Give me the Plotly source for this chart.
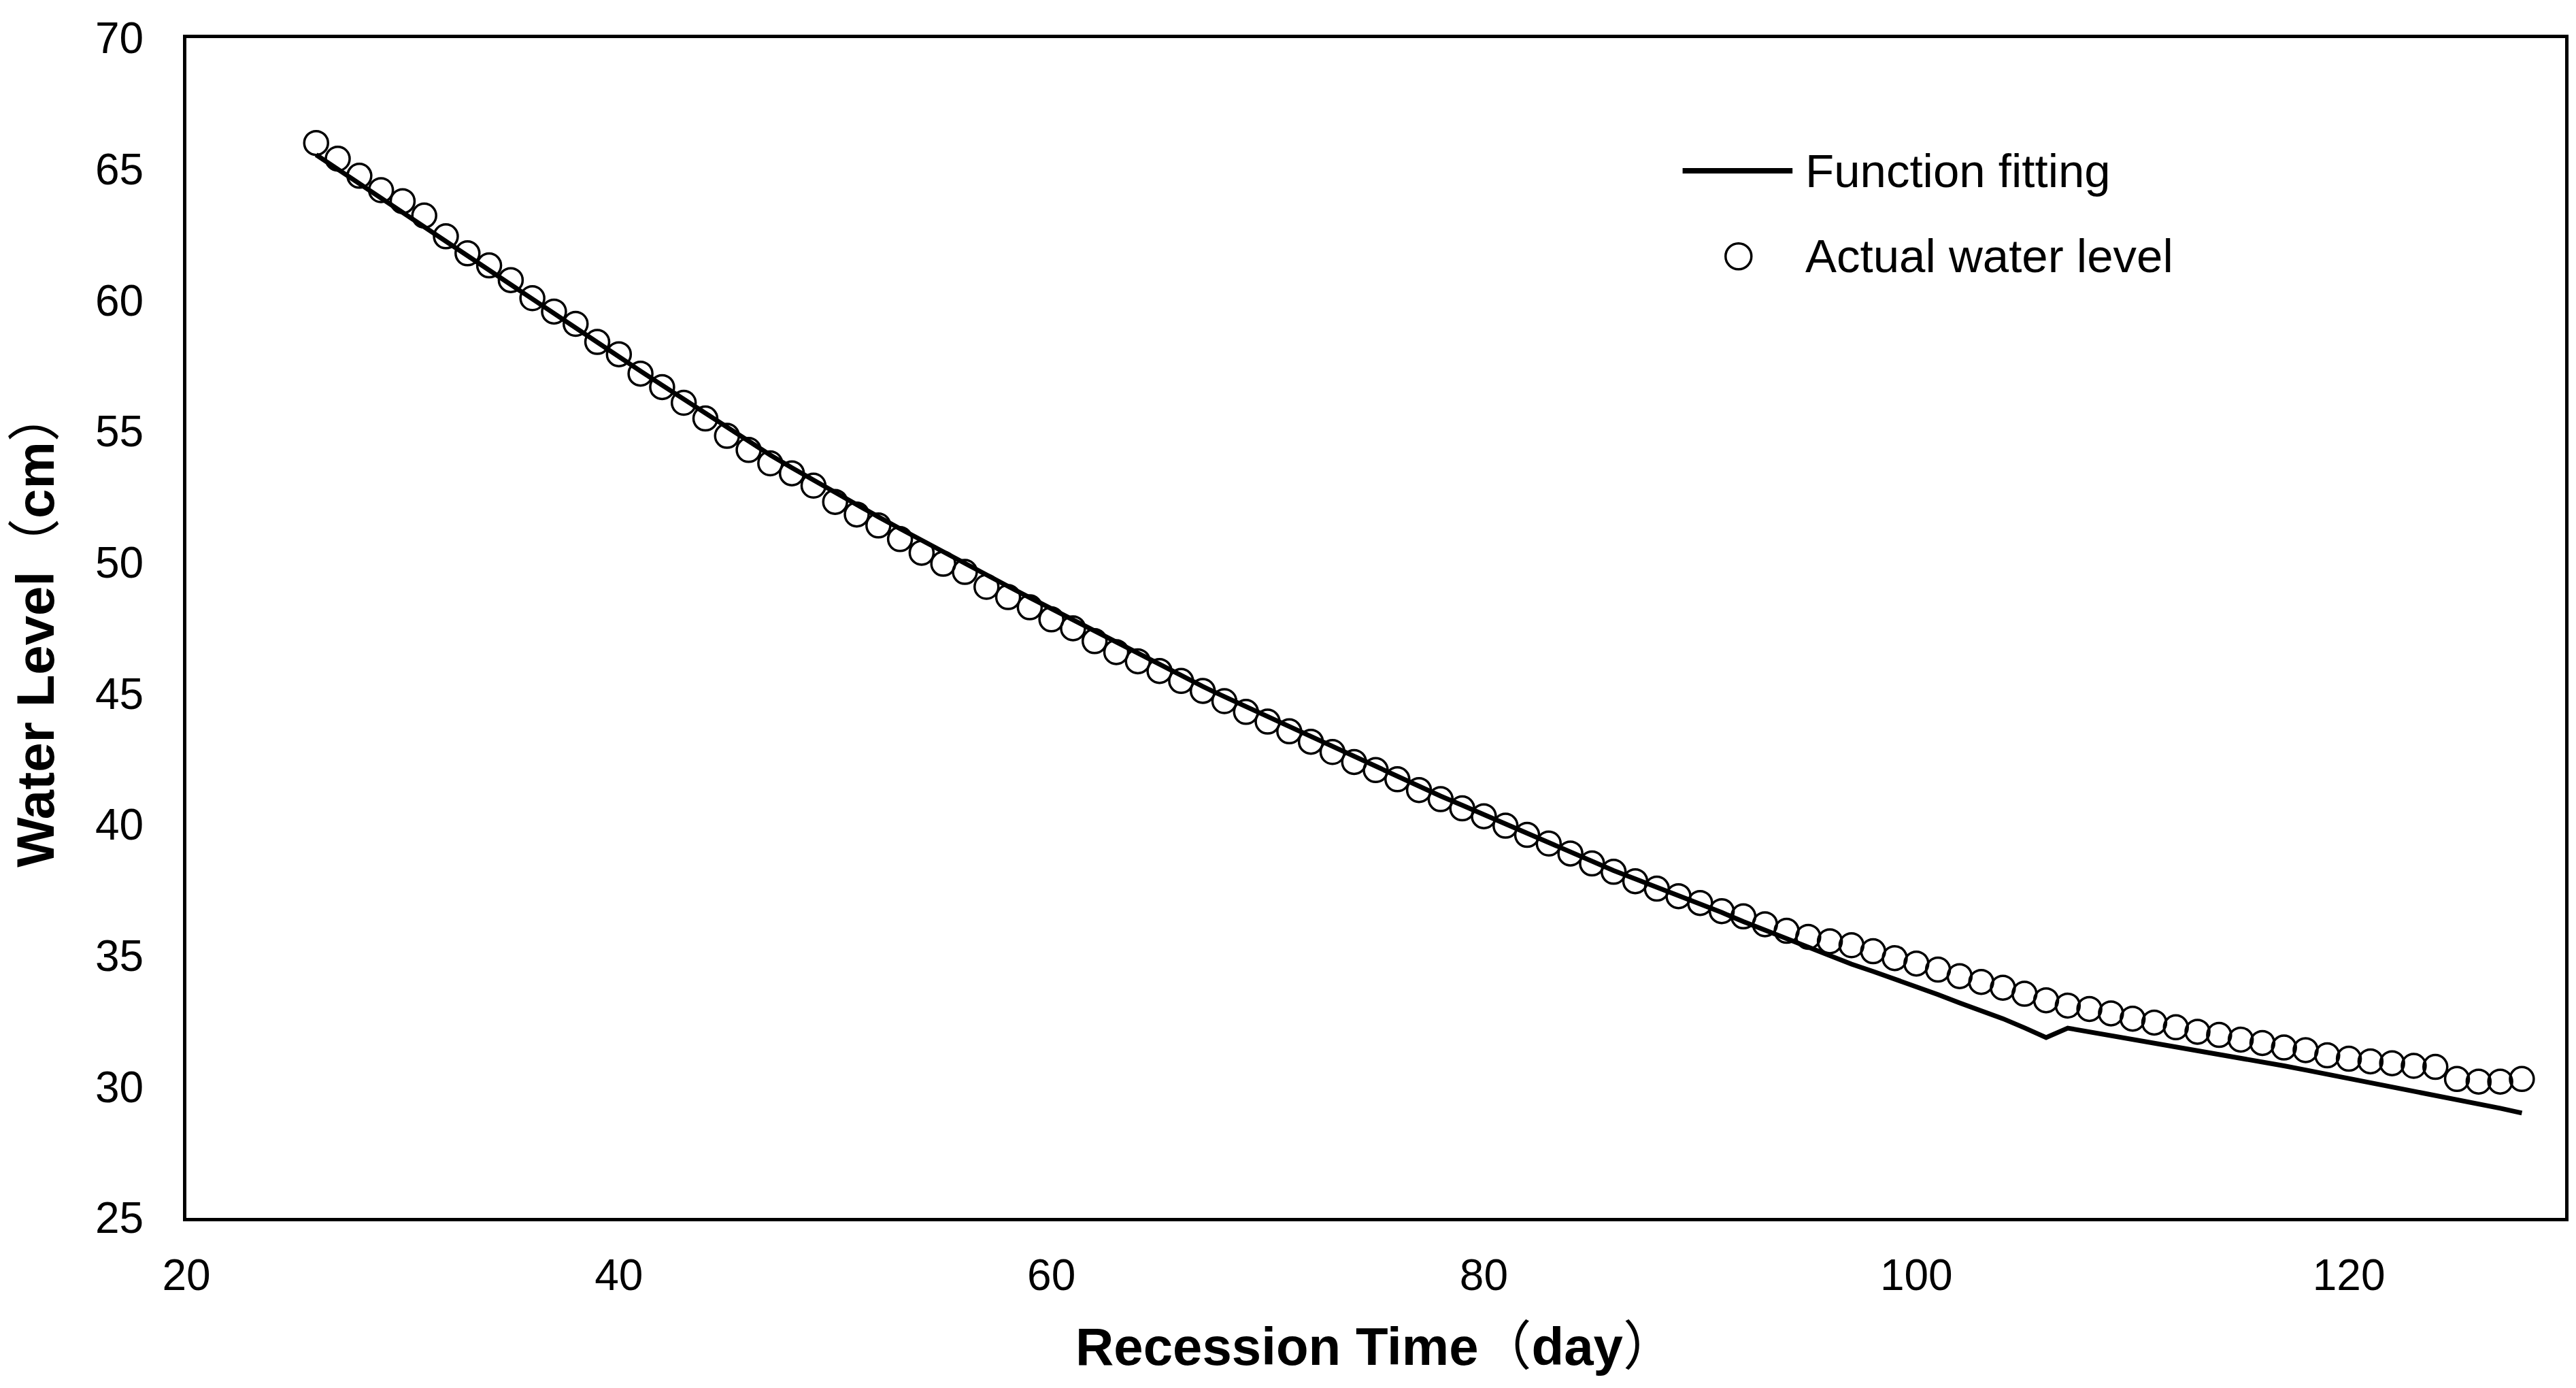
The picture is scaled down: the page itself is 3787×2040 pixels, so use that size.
import plotly.graph_objects as go

# Recession time (days) for observations and fit
days = list(range(26, 129))

# Actual water level (cm)
actual_level = [
    66.00, 65.40, 64.75, 64.20, 63.78, 63.23, 62.44, 61.79, 61.33, 60.77,   # 26-35
    60.08, 59.57, 59.10, 58.41, 57.94, 57.20, 56.69, 56.09, 55.49, 54.83,   # 36-45
    54.29, 53.78, 53.40, 52.93, 52.31, 51.83, 51.41, 50.89, 50.37, 49.95,   # 46-55
    49.64, 49.07, 48.68, 48.29, 47.83, 47.49, 47.00, 46.58, 46.23, 45.86,   # 56-65
    45.48, 45.10, 44.71, 44.30, 43.93, 43.56, 43.16, 42.77, 42.39, 42.08,   # 66-75
    41.73, 41.32, 40.97, 40.62, 40.32, 39.96, 39.61, 39.28, 38.90, 38.52,   # 76-85
    38.20, 37.84, 37.56, 37.27, 37.01, 36.70, 36.50, 36.20, 35.95, 35.72,   # 86-95
    35.55, 35.40, 35.17, 34.91, 34.70, 34.47, 34.22, 34.00, 33.78, 33.55,   # 96-105
    33.30, 33.10, 32.97, 32.80, 32.60, 32.45, 32.27, 32.10, 31.98, 31.80,   # 106-115
    31.67, 31.50, 31.40, 31.20, 31.07, 30.97, 30.90, 30.80, 30.76, 30.30,   # 116-125
    30.20, 30.20, 30.30,                                                    # 126-128
]

# Function fitting (cm)
fitted_level = [
    65.55, 65.00, 64.44, 63.88, 63.33, 62.77, 62.22, 61.66, 61.11, 60.55,   # 26-35
    60.00, 59.46, 58.92, 58.38, 57.84, 57.30, 56.76, 56.22, 55.68, 55.14,   # 36-45
    54.60, 54.10, 53.61, 53.13, 52.66, 52.20, 51.74, 51.29, 50.84, 50.39,   # 46-55
    49.95, 49.52, 49.09, 48.66, 48.23, 47.80, 47.37, 46.94, 46.51, 46.08,   # 56-65
    45.65, 45.27, 44.88, 44.50, 44.11, 43.73, 43.34, 42.96, 42.57, 42.19,   # 66-75
    41.80, 41.45, 41.09, 40.74, 40.38, 40.03, 39.67, 39.32, 38.96, 38.61,   # 76-85
    38.25, 37.93, 37.62, 37.31, 37.00, 36.65, 36.30, 35.97, 35.64, 35.30,   # 86-95
    34.98, 34.68, 34.40, 34.12, 33.83, 33.52, 33.20, 32.90, 32.60, 32.25,   # 96-105
    31.88, 32.24, 32.10, 31.96, 31.82, 31.68, 31.54, 31.40, 31.25, 31.10,   # 106-115
    30.95, 30.80, 30.64, 30.48, 30.32, 30.17, 30.01, 29.85, 29.68, 29.52,   # 116-125
    29.35, 29.18, 29.00,                                                    # 126-128
]

x_ticks = [20, 40, 60, 80, 100, 120]
y_ticks = [25, 30, 35, 40, 45, 50, 55, 60, 65, 70]

series_names = ["Function fitting", "Actual water level"]

FONT = "Liberation Sans, Arial, Noto Sans CJK SC, sans-serif"

fig = go.Figure()

fig.add_trace(go.Scatter(
    x=days, y=fitted_level, mode="lines", name=series_names[0],
    line=dict(color="black", width=7), showlegend=False,
))
fig.add_trace(go.Scatter(
    x=days, y=actual_level, mode="markers", name=series_names[1],
    marker=dict(symbol="circle-open", size=35, color="black",
                line=dict(color="black", width=3.5)),
    showlegend=False,
))

# Legend (drawn in paper coordinates to match the reference's large glyphs)
leg_text_x = 0.6800
leg_rows_y = [0.8875, 0.8150]
legend_shapes = [
    dict(type="line", xref="paper", yref="paper",
         x0=0.6290, x1=0.6752, y0=leg_rows_y[0], y1=leg_rows_y[0],
         line=dict(color="black", width=8)),
    dict(type="circle", xref="paper", yref="paper",
         xsizemode="pixel", ysizemode="pixel",
         xanchor=0.6525, yanchor=leg_rows_y[1],
         x0=-19, x1=19, y0=-19, y1=19,
         line=dict(color="black", width=3.5), fillcolor="rgba(0,0,0,0)"),
]
legend_annotations = [
    dict(text=name, xref="paper", yref="paper", x=leg_text_x, y=yy,
         xanchor="left", yanchor="middle", showarrow=False,
         font=dict(family=FONT, size=69, color="black"))
    for name, yy in zip(series_names, leg_rows_y)
]

fig.update_layout(
    width=3787, height=2040,
    paper_bgcolor="white", plot_bgcolor="white",
    margin=dict(l=266, r=24, t=48, b=258),
    font=dict(family=FONT, size=64, color="black"),
    showlegend=False,
    shapes=legend_shapes,
    annotations=legend_annotations,
    xaxis=dict(
        range=[20, 130], tickvals=x_ticks, ticktext=[str(v) for v in x_ticks],
        showgrid=False, zeroline=False,
        showline=True, linecolor="black", linewidth=5, mirror=True,
        ticks="", ticklabelstandoff=24,
        tickfont=dict(family=FONT, size=64, color="black"),
        title=dict(text="<b>Recession Time</b>（<b>day</b>）",
                   font=dict(family=FONT, size=78, color="black"),
                   standoff=44),
    ),
    yaxis=dict(
        range=[25, 70], tickvals=y_ticks, ticktext=[str(v) for v in y_ticks],
        showgrid=False, zeroline=False,
        showline=True, linecolor="black", linewidth=5, mirror=True,
        ticks="", ticklabelstandoff=45,
        tickfont=dict(family=FONT, size=64, color="black"),
        title=dict(text="<b>Water Level</b>（<b>cm</b>）",
                   font=dict(family=FONT, size=78, color="black"),
                   standoff=38),
    ),
)

fig.write_html("out.html")
